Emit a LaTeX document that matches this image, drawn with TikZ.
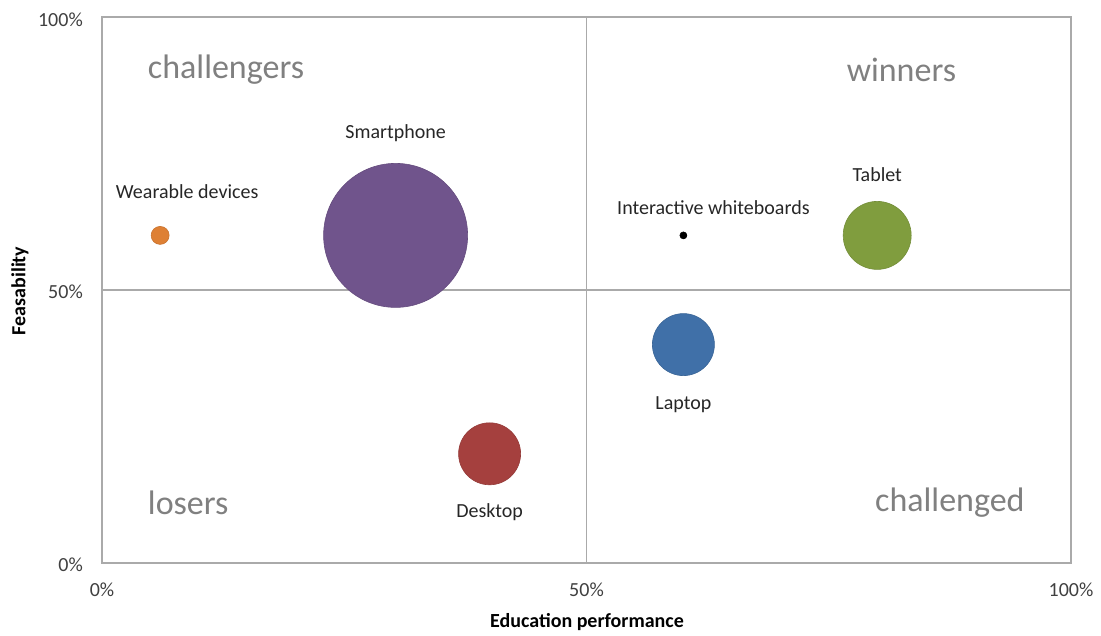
\documentclass[tikz,border=0pt]{standalone}
\usepackage{fontspec}
\setmainfont{Carlito}
\usetikzlibrary{positioning}
\definecolor{my_orange}{RGB}{222, 128, 52}
\definecolor{my_purple}{RGB}{112, 84, 140}
\definecolor{my_red}{RGB}{165, 64, 62}
\definecolor{my_blue}{RGB}{64, 112, 168}
\definecolor{my_green}{RGB}{128, 157, 62}
\definecolor{my_grid}{RGB}{170, 170, 170}
\tikzset {
  bubble/.style = {circle, draw=#1!90!black, fill=#1, line width=0.6pt, inner sep=0pt},
  label/.style = {inner sep=0pt, font=\fontsize{20}{24}\selectfont, text=black!85},
  quadrant/.style = {inner sep=0pt, font=\fontsize{34}{40}\selectfont, text=black!50},
  tick/.style = {inner sep=0pt, font=\fontsize{20}{24}\selectfont, text=black!75},
  axistitle/.style = {inner sep=0pt, font=\fontsize{20}{24}\selectfont\bfseries},
  gridline/.style = {draw=my_grid, line width=1.2pt}
}

\begin{document}
\begin{tikzpicture}[x=1pt, y=1pt]
    \useasboundingbox (0,0) rectangle (1101,635);

    % chart area, data coordinates 0..100
    \begin{scope}[shift={(102,72)}, x=9.69pt, y=5.46pt]
        \draw[gridline] (0,0) rectangle (100,100);
        \draw[gridline] (50,0) -- (50,100);
        \draw[gridline] (0,50) -- (100,50);

        \node[tick, left=19pt, yshift=-1.5pt] (y0) at (0,0) {0\%};
        \node[tick, left=19pt, yshift=-1.5pt] (y50) at (0,50) {50\%};
        \node[tick, left=19pt, yshift=-3pt] (y100) at (0,100) {100\%};
        \node[tick, below=20pt] (x0) at (0,0) {0\%};
        \node[tick, below=20pt] (x50) at (50,0) {50\%};
        \node[tick, below=20pt] (x100) at (100,0) {100\%};

        \node[quadrant] (challengers) at (12.8,90.3) {challengers};
        \node[quadrant] (winners) at (82.5,90.3) {winners};
        \node[quadrant] (losers) at (8.9,11) {losers};
        \node[quadrant] (challenged) at (87.5,11) {challenged};

        \node[bubble=my_orange, minimum size=18pt] (wearable) at (6,60) {};
        \node[bubble=my_purple, minimum size=144pt] (smartphone) at (30.3,60) {};
        \node[bubble=my_red, minimum size=62pt] (desktop) at (40,20) {};
        \node[bubble=my_blue, minimum size=62pt] (laptop) at (60,40) {};
        \node[bubble=black, minimum size=7pt] (whiteboards) at (60,60) {};
        \node[bubble=my_green, minimum size=68pt] (tablet) at (80,60) {};

        \node[label, above=27pt of wearable, xshift=27pt] (wearable_lbl) {Wearable devices};
        \node[label, above=21pt of smartphone] (smartphone_lbl) {Smartphone};
        \node[label, above=17pt of whiteboards, xshift=30pt] (whiteboards_lbl) {Interactive whiteboards};
        \node[label, above=19pt of tablet] (tablet_lbl) {Tablet};
        \node[label, below=21pt of laptop] (laptop_lbl) {Laptop};
        \node[label, below=18pt of desktop] (desktop_lbl) {Desktop};
    \end{scope}

    \node[axistitle] (xtitle) at (587,13) {Education performance};
    \node[axistitle, rotate=90] (ytitle) at (20,344) {Feasability};

\end{tikzpicture}
\end{document}
